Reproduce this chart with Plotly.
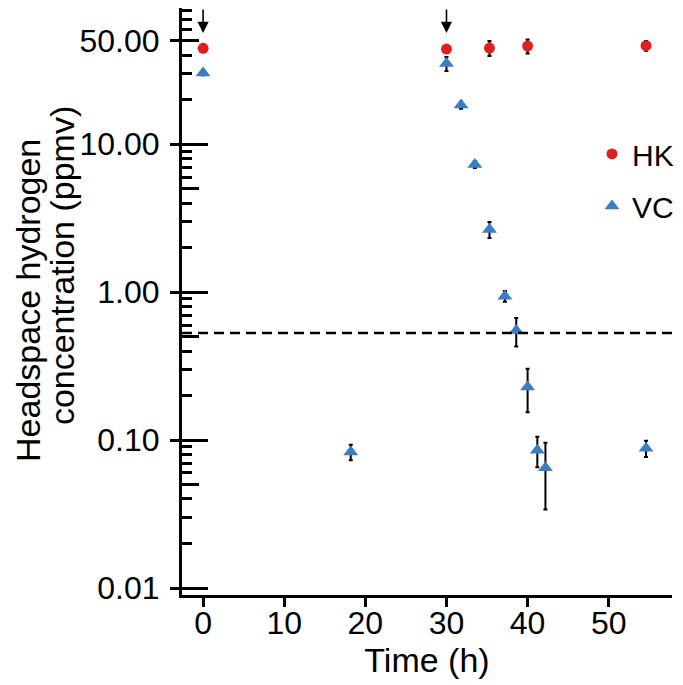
import math
import plotly.graph_objects as go

# time in hours, hydrogen in ppmv
hk_time = [0, 30, 35.3, 40, 54.6]
hk_conc = [44.5, 44.0, 44.7, 46.1, 46.4]
hk_err = [1.0, 1.2, 5.2, 5.0, 3.5]

vc_time = [0, 18.2, 30, 31.8, 33.5, 35.3, 37.2, 38.6, 40.0, 41.2, 42.2, 54.6]
vc_conc = [30.3, 0.083, 35.1, 18.4, 7.3, 2.65, 0.94, 0.55, 0.229, 0.0855, 0.065, 0.088]
vc_err = [1.0, 0.01, 3.8, 1.0, 0.4, 0.33, 0.08, 0.12, 0.075, 0.02, 0.031, 0.011]

threshold = 0.53
arrow_times = [0, 30]
arrow_tip = 56.5

x_range = [-2.6, 57.8]
y_range = [-2.047, 1.921]  # log10 units

y_labels = [0.01, 0.1, 1, 10, 50]
y_text = ["0.01", "0.10", "1.00", "10.00", "50.00"]
decades = [0.01, 0.1, 1, 10]
fives = [0.05, 0.5, 5, 50]
minors = [k * 10 ** e for e in range(-2, 2) for k in (2, 3, 4, 6, 7, 8, 9)]
x_ticks = [0, 10, 20, 30, 40, 50]

RED = "#E0201F"
BLUE = "#3A7DC2"
FONT = "Liberation Sans, Arial, sans-serif"

fig = go.Figure()

fig.add_trace(go.Scatter(
    x=x_range, y=[threshold, threshold], mode="lines", yaxis="y2",
    line=dict(color="black", width=2.5, dash="10px,6px"), showlegend=False, hoverinfo="skip"))

fig.add_trace(go.Scatter(
    x=hk_time, y=hk_conc, mode="markers", name="HK", legendgroup="hk",
    marker=dict(symbol="circle", size=11, color=RED),
    error_y=dict(type="data", array=hk_err, color="black", thickness=2, width=2)))

fig.add_trace(go.Scatter(
    x=vc_time, y=vc_conc, mode="markers", name="VC", legendgroup="vc",
    marker=dict(symbol="triangle-up", size=13, color=BLUE),
    error_y=dict(type="data", array=vc_err, color="black", thickness=2, width=2)))

for t in arrow_times:
    fig.add_annotation(
        x=t, y=math.log10(arrow_tip), ax=t, ay=y_range[1], xref="x", yref="y",
        axref="x", ayref="y", text="", showarrow=True, arrowhead=2,
        arrowsize=1.4, arrowwidth=1.6, arrowcolor="black", standoff=0)

# two-line y title, lines offset as in the original
fig.add_annotation(text="Headspace hydrogen", textangle=-90, xref="paper", yref="paper",
                   x=-0.3143, y=0.5026, showarrow=False, xanchor="center", yanchor="middle",
                   font=dict(size=34, color="black", family=FONT))
fig.add_annotation(text="concentration (ppmv)", textangle=-90, xref="paper", yref="paper",
                   x=-0.2449, y=0.562, showarrow=False, xanchor="center", yanchor="middle",
                   font=dict(size=34, color="black", family=FONT))

fig.update_layout(
    width=675, height=677,
    margin=dict(l=174, r=11, t=0, b=90),
    paper_bgcolor="white", plot_bgcolor="white",
    font=dict(family=FONT, color="black"),
    xaxis=dict(
        range=x_range, tickmode="array", tickvals=x_ticks,
        ticks="outside", ticklen=9, tickwidth=2.5, tickcolor="black",
        showline=True, linewidth=3, linecolor="black",
        showgrid=False, zeroline=False,
        tickfont=dict(size=32), ticklabelstandoff=-11,
        title=dict(text="Time (h)", font=dict(size=34), standoff=6)),
    yaxis=dict(
        type="log", range=y_range, tickmode="array", tickvals=y_labels, ticktext=y_text,
        ticks="outside", ticklen=9, tickwidth=2.5, tickcolor="black",
        showline=True, linewidth=3, linecolor="black",
        showgrid=False, zeroline=False,
        tickfont=dict(size=32), ticklabelstandoff=4,
        minor=dict(tickmode="array", tickvals=minors, ticks="inside",
                   ticklen=10, tickwidth=2.5, tickcolor="black", showgrid=False)),
    yaxis2=dict(
        type="log", range=y_range, overlaying="y", anchor="x", side="left",
        tickmode="array", tickvals=decades, ticks="inside", ticklen=26,
        tickwidth=2.5, tickcolor="black", showticklabels=False,
        showline=False, showgrid=False, zeroline=False,
        minor=dict(tickmode="array", tickvals=fives, ticks="inside",
                   ticklen=17, tickwidth=2.5, tickcolor="black", showgrid=False)),
    legend=dict(x=0.8367, y=0.7956, xanchor="left", yanchor="top",
                bgcolor="rgba(0,0,0,0)", font=dict(size=30),
                traceorder="grouped", tracegroupgap=10),
    showlegend=True,
)

fig.write_html("out.html")
